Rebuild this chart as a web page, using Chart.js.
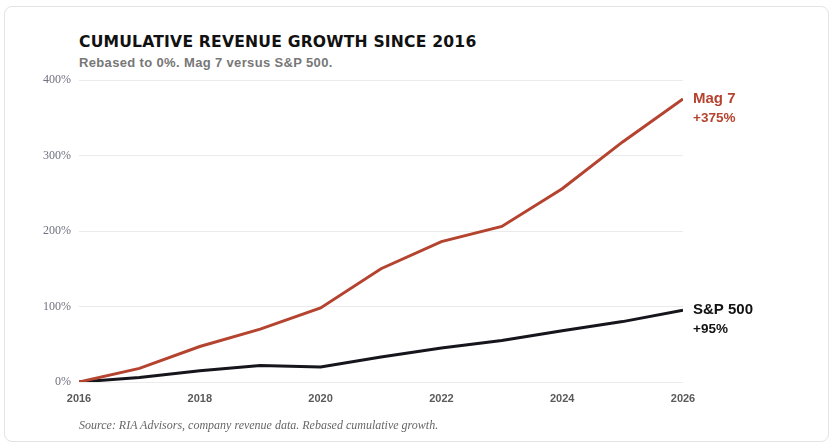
<!DOCTYPE html>
<html>
<head>
<meta charset="utf-8">
<script src="https://cdn.jsdelivr.net/npm/chart.js@4"></script>
<style>
  html, body { margin: 0; padding: 0; background: #fff; }
  #wrap { position: relative; width: 835px; height: 448px; overflow: hidden; }
  #card { position: absolute; left: 4px; top: 6px; width: 825px; height: 436px;
          border: 1px solid #e3e3e3; border-radius: 8px; box-sizing: border-box; }
  #title { position: absolute; left: 79px; top: 33px; font: 900 15.6px "DejaVu Sans", sans-serif;
           letter-spacing: 0.2px; color: #111; white-space: nowrap; }
  #subtitle { position: absolute; left: 79px; top: 55px; font: bold 13px "Liberation Sans", Arial, sans-serif;
              color: #777; white-space: nowrap; letter-spacing: 0.35px; }
  #source { position: absolute; left: 79px; top: 418px; font: italic 12px "Liberation Serif", serif;
            color: #666; white-space: nowrap; }
  #chart { position: absolute; left: 0; top: 0; }
</style>
</head>
<body>
<div id="wrap">
  <div id="card"></div>
  <div id="title">CUMULATIVE REVENUE GROWTH SINCE 2016</div>
  <div id="subtitle">Rebased to 0%. Mag 7 versus S&amp;P 500.</div>
  <canvas id="chart" width="835" height="448"></canvas>
  <div id="source">Source: RIA Advisors, company revenue data. Rebased cumulative growth.</div>
</div>
<script>
var years = [2016, 2017, 2018, 2019, 2020, 2021, 2022, 2023, 2024, 2025, 2026];
var mag7 = [0, 18, 47, 70, 98, 150, 186, 206, 256, 318, 375];
var sp500 = [0, 6, 15, 22, 20, 33, 45, 55, 68, 80, 95];
var yTicks = [0, 100, 200, 300, 400];
var xTicks = [2016, 2018, 2020, 2022, 2024, 2026];

var MAG_COLOR = '#b4432f';
var SP_COLOR = '#15151c';

function toPoints(arr) {
    var out = [];
    for (var i in years) {
        out.push({x: years[i], y: arr[i]});
    }
    return out;
}

var endLabels = {
    id: 'endLabels',
    afterDatasetsDraw: function (chart) {
        var ctx = chart.ctx;
        var xs = chart.scales.x, ys = chart.scales.y;
        var items = [
            {name: 'Mag 7', val: '+375%', data: mag7, color: MAG_COLOR},
            {name: 'S&P 500', val: '+95%', data: sp500, color: '#111'}
        ];
        ctx.save();
        ctx.textAlign = 'left';
        ctx.textBaseline = 'middle';
        items.forEach(function (it) {
            var last = it.data.length - 1;
            var px = xs.getPixelForValue(years[last]) + 10;
            var py = ys.getPixelForValue(it.data[last]);
            ctx.fillStyle = it.color;
            ctx.font = 'bold 15px "Liberation Sans", Arial, sans-serif';
            ctx.fillText(it.name, px, py);
            ctx.font = 'bold 13.5px "Liberation Sans", Arial, sans-serif';
            ctx.fillText(it.val, px, py + 19);
        });
        ctx.restore();
    }
};

var config = {
    type: 'line',
    data: {
        datasets: [
            {
                label: 'Mag 7',
                data: toPoints(mag7),
                borderColor: MAG_COLOR,
                borderWidth: 3,
                pointRadius: 0,
                tension: 0
            }, {
                label: 'S&P 500',
                data: toPoints(sp500),
                borderColor: SP_COLOR,
                borderWidth: 3,
                pointRadius: 0,
                tension: 0
            }]
    },
    options: {
        responsive: false,
        animation: false,
        layout: {
            padding: {left: 39, right: 152, top: 80, bottom: 40}
        },
        plugins: {
            legend: {display: false},
            tooltip: {enabled: false},
            title: {display: false}
        },
        scales: {
            x: {
                type: 'linear',
                min: 2016,
                max: 2026,
                afterBuildTicks: function (scale) {
                    scale.ticks = xTicks.map(function (v) { return {value: v}; });
                },
                afterFit: function (scale) { scale.height = 26; },
                grid: {display: false, drawTicks: false},
                border: {display: false},
                ticks: {
                    padding: 10,
                    color: '#5a5a5a',
                    font: {family: '"Liberation Sans", Arial, sans-serif', size: 11, weight: 'bold'},
                    callback: function (v) { return String(v); },
                    maxRotation: 0
                }
            },
            y: {
                min: 0,
                max: 400,
                afterBuildTicks: function (scale) {
                    scale.ticks = yTicks.map(function (v) { return {value: v}; });
                },
                afterFit: function (scale) { scale.width = 40; },
                grid: {color: '#ebebeb', lineWidth: 1, drawTicks: false},
                border: {display: false},
                ticks: {
                    padding: 8,
                    color: '#70707e',
                    font: {family: '"Liberation Serif", Georgia, serif', size: 12},
                    callback: function (v) { return v + '%'; }
                }
            }
        }
    },
    plugins: [endLabels]
};

new Chart(document.getElementById('chart').getContext('2d'), config);
</script>
</body>
</html>
